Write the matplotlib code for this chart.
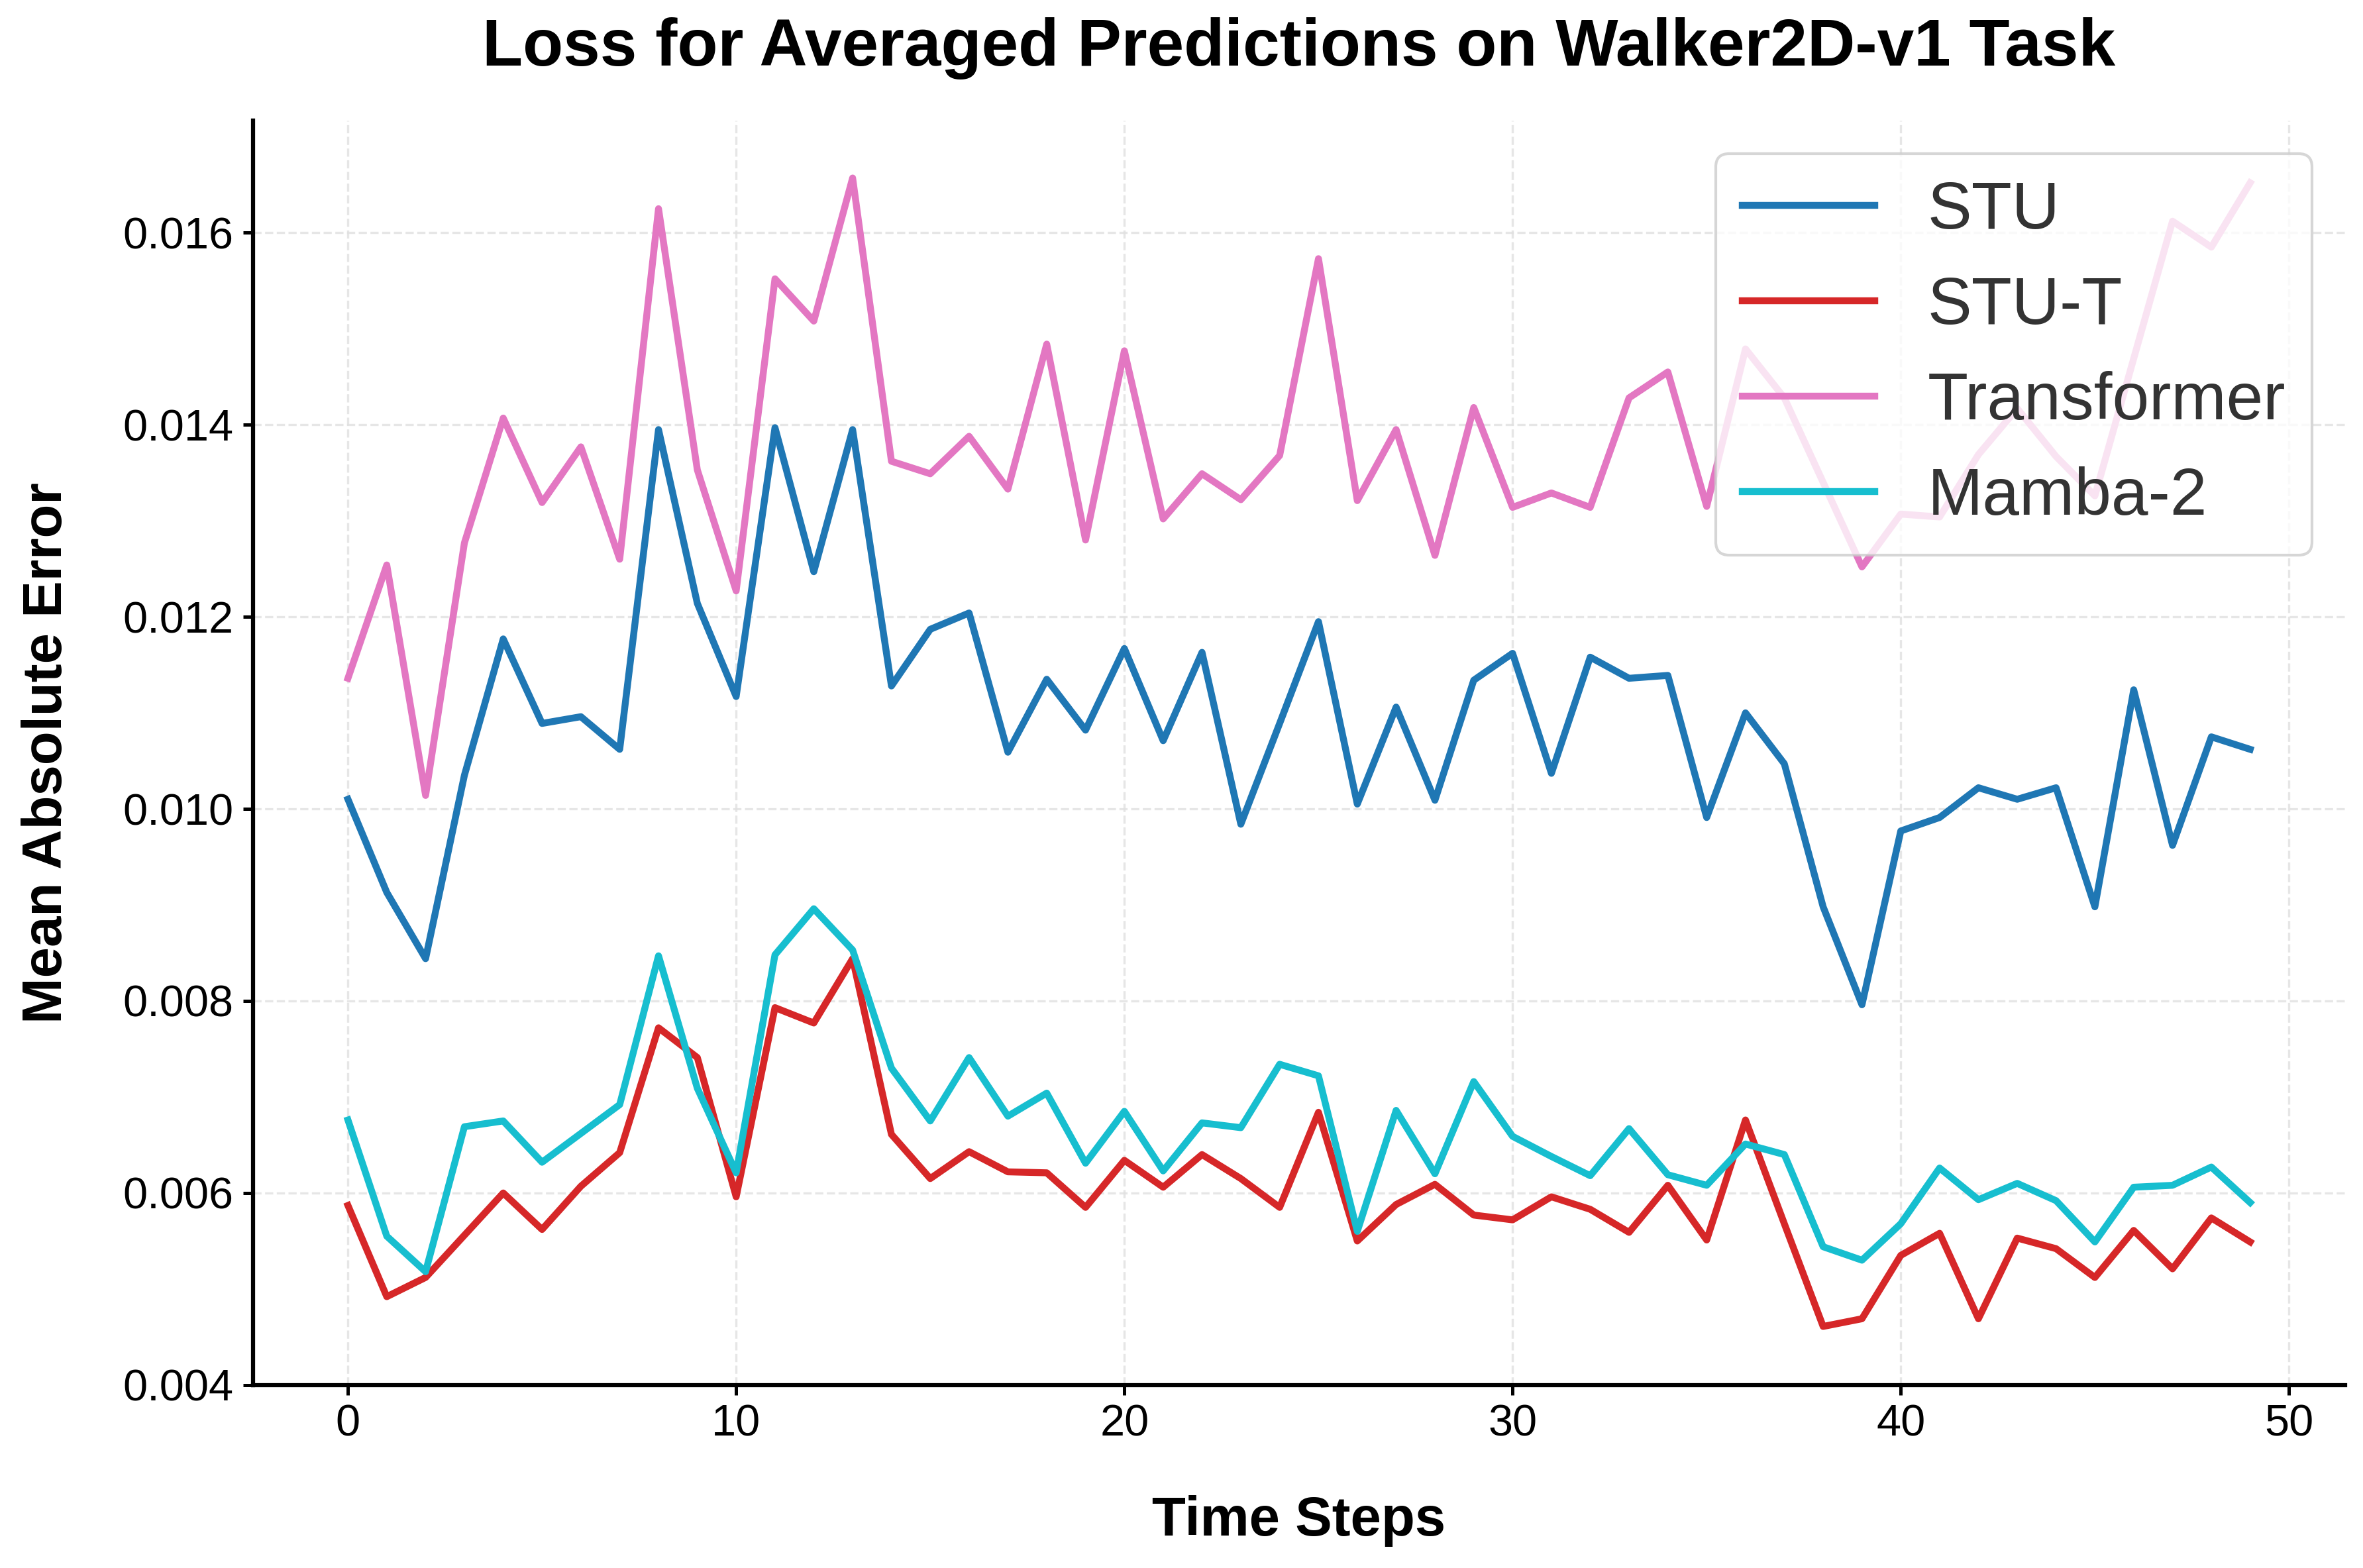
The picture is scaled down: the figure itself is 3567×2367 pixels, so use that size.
import matplotlib
matplotlib.use("Agg")
import matplotlib.pyplot as plt
import numpy as np

plt.rcParams["font.family"] = ["Liberation Sans", "DejaVu Sans"]

steps = np.arange(50)

stu = [0.01010, 0.00913, 0.00844, 0.01035, 0.01177, 0.01089, 0.01096, 0.01062, 0.01395, 0.01214,
       0.01117, 0.01397, 0.01247, 0.01395, 0.01128, 0.01187, 0.01204, 0.01059, 0.01135, 0.01082,
       0.01167, 0.01071, 0.01163, 0.00984, 0.01089, 0.01195, 0.01005, 0.01106, 0.01009, 0.01134,
       0.01162, 0.01037, 0.01158, 0.01136, 0.01139, 0.00991, 0.01100, 0.01047, 0.00898, 0.00796,
       0.00977, 0.00991, 0.01022, 0.01010, 0.01022, 0.00898, 0.01124, 0.00962, 0.01075, 0.01062]

stu_t = [0.00587, 0.00492, 0.00512, 0.00556, 0.00600, 0.00562, 0.00607, 0.00642, 0.00772, 0.00741,
         0.00596, 0.00793, 0.00777, 0.00844, 0.00661, 0.00615, 0.00643, 0.00622, 0.00621, 0.00585,
         0.00634, 0.00606, 0.00640, 0.00615, 0.00585, 0.00684, 0.00550, 0.00588, 0.00609, 0.00577,
         0.00572, 0.00596, 0.00583, 0.00559, 0.00608, 0.00551, 0.00676, 0.00568, 0.00461, 0.00469,
         0.00535, 0.00558, 0.00469, 0.00553, 0.00542, 0.00512, 0.00561, 0.00521, 0.00574, 0.00549]

transformer = [0.01136, 0.01254, 0.01014, 0.01277, 0.01407, 0.01319, 0.01377, 0.01260, 0.01625, 0.01353,
               0.01227, 0.01552, 0.01508, 0.01657, 0.01362, 0.01349, 0.01388, 0.01333, 0.01484, 0.01280,
               0.01477, 0.01302, 0.01349, 0.01322, 0.01368, 0.01573, 0.01321, 0.01395, 0.01264, 0.01418,
               0.01314, 0.01329, 0.01314, 0.01428, 0.01455, 0.01315, 0.01479, 0.01428, 0.01340, 0.01252,
               0.01307, 0.01304, 0.01369, 0.01417, 0.01367, 0.01326, 0.01469, 0.01612, 0.01585, 0.01652]

mamba2 = [0.00676, 0.00555, 0.00518, 0.00669, 0.00675, 0.00632, 0.00662, 0.00692, 0.00847, 0.00709,
          0.00621, 0.00848, 0.00896, 0.00853, 0.00730, 0.00675, 0.00741, 0.00680, 0.00704, 0.00631,
          0.00685, 0.00623, 0.00673, 0.00668, 0.00734, 0.00722, 0.00560, 0.00686, 0.00620, 0.00716,
          0.00659, 0.00638, 0.00618, 0.00667, 0.00619, 0.00608, 0.00651, 0.00640, 0.00544, 0.00530,
          0.00568, 0.00626, 0.00593, 0.00610, 0.00592, 0.00549, 0.00606, 0.00608, 0.00627, 0.00590]

series = [("STU", stu, "#1f77b4"), ("STU-T", stu_t, "#d62728"),
          ("Transformer", transformer, "#e377c2"), ("Mamba-2", mamba2, "#17becf")]

fig, ax = plt.subplots(figsize=(3567 / 300, 2367 / 300))
fig.subplots_adjust(left=0.107, right=0.9925, bottom=0.1167, top=0.9231)

for name, vals, color in series:
    ax.plot(steps, vals, label=name, color=color, linewidth=2.5)

ax.set_title("Loss for Averaged Predictions on Walker2D-v1 Task",
             fontsize=24, fontweight="bold", pad=20)
ax.set_xlabel("Time Steps", fontsize=20, fontweight="bold", labelpad=18)
ax.set_ylabel("Mean Absolute Error", fontsize=20, fontweight="bold", labelpad=18)
ax.tick_params(axis="both", labelsize=16, width=1.2, length=3.5)
ax.yaxis.set_major_formatter(matplotlib.ticker.FormatStrFormatter("%.3f"))
ax.set_ylim(bottom=0.004)

ax.grid(True, linestyle="--", color="#e0e0e0", linewidth=0.8, alpha=0.8)
ax.set_axisbelow(True)
for side in ["top", "right"]:
    ax.spines[side].set_visible(False)
for side in ["left", "bottom"]:
    ax.spines[side].set_linewidth(1.5)

leg = ax.legend(loc="upper right", fontsize=24, framealpha=0.8, edgecolor="#cccccc",
                fancybox=True, labelcolor="#333333")

plt.savefig("out.png", dpi=300)
plt.close()
